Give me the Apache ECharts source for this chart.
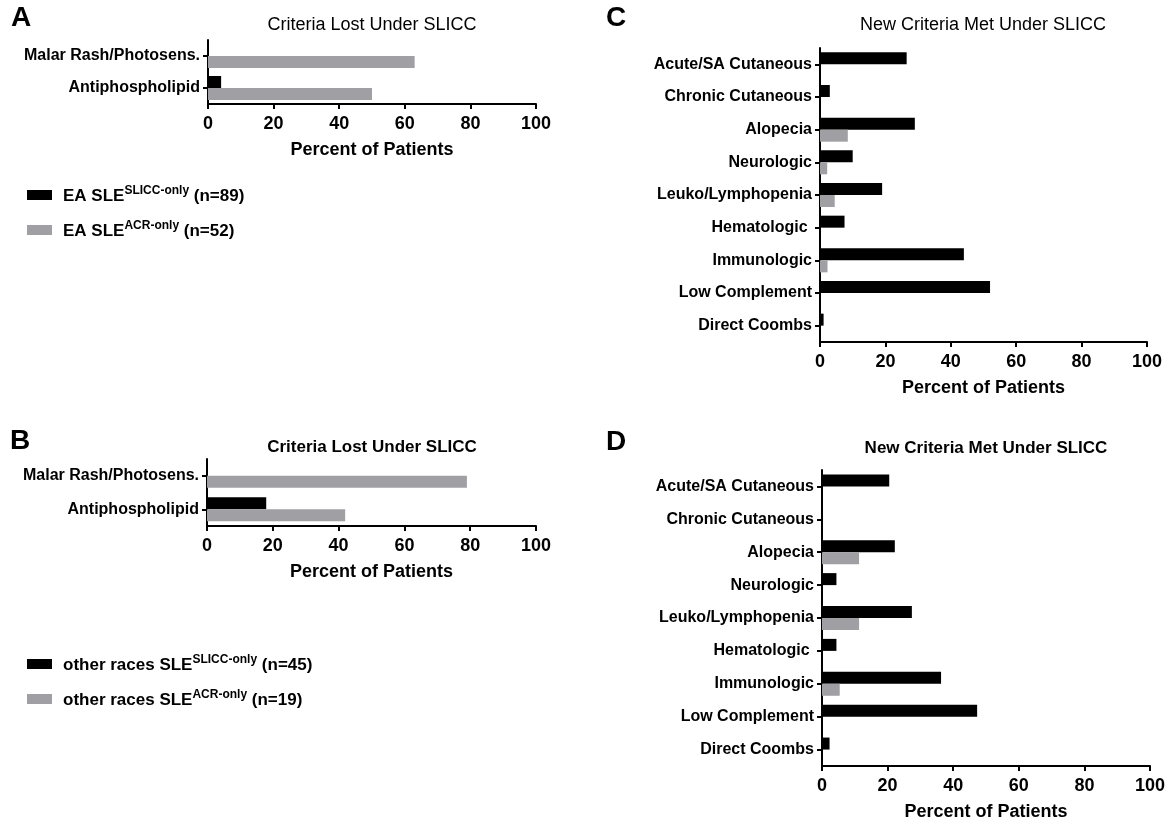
<!DOCTYPE html>
<html>
<head>
<meta charset="utf-8">
<script src="https://cdn.jsdelivr.net/npm/echarts@6/dist/echarts.min.js"></script>
<style>
  html, body { margin: 0; padding: 0; background: #fff; }
  #slicc { width: 1168px; height: 824px; }
</style>
</head>
<body>
<div id="slicc"></div>
<script>
// categories
var lostCats = ['Malar Rash/Photosens.', 'Antiphospholipid'];
var newCats = ['Acute/SA Cutaneous', 'Chronic Cutaneous', 'Alopecia', 'Neurologic',
  'Leuko/Lymphopenia', 'Hematologic ', 'Immunologic', 'Low Complement', 'Direct Coombs'];
var xTicks = [0, 20, 40, 60, 80, 100];

// A: EA, criteria lost
var eaLostSlicc = [0, 4];
var eaLostAcr = [63, 50];
// B: other races, criteria lost
var orLostSlicc = [0, 18];
var orLostAcr = [79, 42];
// C: EA, new criteria met
var eaNewSlicc = [26.5, 3, 29, 10, 19, 7.5, 44, 52, 1.1];
var eaNewAcr = [0, 0, 8.5, 2.2, 4.5, 0, 2.3, 0, 0];
// D: other races, new criteria met
var orNewSlicc = [20.5, 0, 22.2, 4.4, 27.4, 4.4, 36.3, 47.3, 2.3];
var orNewAcr = [0, 0, 11.3, 0, 11.3, 0, 5.4, 0, 0];

var FONT = '"Liberation Sans", Arial, sans-serif';
var BLACK = '#000000';
var GREY = '#a0a0a4';

var myChart = echarts.init(document.getElementById('slicc'), null, {renderer: 'canvas'});

function xAx(gridIndex) {
  return {
    gridIndex: gridIndex,
    type: 'value',
    min: xTicks[0],
    max: xTicks[xTicks.length - 1],
    interval: xTicks[1] - xTicks[0],
    name: 'Percent of Patients',
    nameLocation: 'middle',
    nameGap: 37,
    nameTextStyle: {color: BLACK, fontFamily: FONT, fontWeight: 'bold', fontSize: 18},
    splitLine: {show: false},
    axisLine: {show: true, lineStyle: {color: BLACK, width: 2}},
    axisTick: {show: true, length: 5, lineStyle: {color: BLACK, width: 2}},
    axisLabel: {color: BLACK, fontFamily: FONT, fontWeight: 'bold', fontSize: 18, margin: 11}
  };
}

function yAx(gridIndex, cats) {
  return {
    gridIndex: gridIndex,
    type: 'category',
    data: cats,
    inverse: true,
    axisLine: {show: true, lineStyle: {color: BLACK, width: 2}},
    axisTick: {show: true, alignWithLabel: true, length: 5, lineStyle: {color: BLACK, width: 2}},
    axisLabel: {color: BLACK, fontFamily: FONT, fontWeight: 'bold', fontSize: 16, margin: 8}
  };
}

function bar(name, idx, data, color) {
  return {
    name: name,
    type: 'bar',
    xAxisIndex: idx,
    yAxisIndex: idx,
    barWidth: 12,
    barGap: '0%',
    itemStyle: {color: color},
    data: data
  };
}

function txt(x, y, text, size, weight) {
  return {
    type: 'text',
    x: x,
    y: y,
    style: {
      text: text,
      fill: BLACK,
      font: (weight || 'bold') + ' ' + size + 'px ' + FONT,
      align: 'center',
      verticalAlign: 'middle',
      textAlign: 'center',
      textVerticalAlign: 'middle'
    }
  };
}

var legendNames = {
  'EA SLICC': '{b|EA SLE}{s|SLICC-only}{b| (n=89)}',
  'EA ACR': '{b|EA SLE}{s|ACR-only}{b| (n=52)}',
  'OR SLICC': '{b|other races SLE}{s|SLICC-only}{b| (n=45)}',
  'OR ACR': '{b|other races SLE}{s|ACR-only}{b| (n=19)}'
};

function leg(top, names) {
  return {
    data: names,
    orient: 'vertical',
    left: 27,
    top: top,
    padding: 0,
    itemWidth: 25,
    itemHeight: 10,
    itemGap: 15,
    icon: 'rect',
    selectedMode: false,
    formatter: function (n) { return legendNames[n]; },
    textStyle: {
      padding: [0, 0, 0, 6],
      rich: {
        b: {color: BLACK, fontFamily: FONT, fontWeight: 'bold', fontSize: 17, lineHeight: 20, verticalAlign: 'bottom'},
        s: {color: BLACK, fontFamily: FONT, fontWeight: 'bold', fontSize: 12, lineHeight: 20, verticalAlign: 'top'}
      }
    }
  };
}

var option = {
  animation: false,
  backgroundColor: '#ffffff',
  grid: [
    {left: 208, right: 632, top: 40, height: 64},   // A
    {left: 207, right: 632, top: 459, height: 67},  // B
    {left: 820, right: 21, top: 48, height: 294},   // C
    {left: 822, right: 18, top: 470, height: 296}   // D
  ],
  xAxis: [xAx(0), xAx(1), xAx(2), xAx(3)],
  yAxis: [yAx(0, lostCats), yAx(1, lostCats), yAx(2, newCats), yAx(3, newCats)],
  legend: [
    leg(185, ['EA SLICC', 'EA ACR']),
    leg(654, ['OR SLICC', 'OR ACR'])
  ],
  series: [
    bar('EA SLICC', 0, eaLostSlicc, BLACK),
    bar('EA ACR', 0, eaLostAcr, GREY),
    bar('OR SLICC', 1, orLostSlicc, BLACK),
    bar('OR ACR', 1, orLostAcr, GREY),
    bar('EA SLICC', 2, eaNewSlicc, BLACK),
    bar('EA ACR', 2, eaNewAcr, GREY),
    bar('OR SLICC', 3, orNewSlicc, BLACK),
    bar('OR ACR', 3, orNewAcr, GREY)
  ],
  graphic: [
    txt(21, 18, 'A', 28),
    txt(20, 441, 'B', 28),
    txt(616, 18, 'C', 28),
    txt(616, 442, 'D', 28),
    // A and C titles are drawn lighter in the source figure
    txt(372, 25, 'Criteria Lost Under SLICC', 18, 'normal'),
    txt(372, 447, 'Criteria Lost Under SLICC', 17),
    txt(983, 25, 'New Criteria Met Under SLICC', 18, 'normal'),
    txt(986, 448, 'New Criteria Met Under SLICC', 17)
  ]
};

myChart.setOption(option);
</script>
</body>
</html>
